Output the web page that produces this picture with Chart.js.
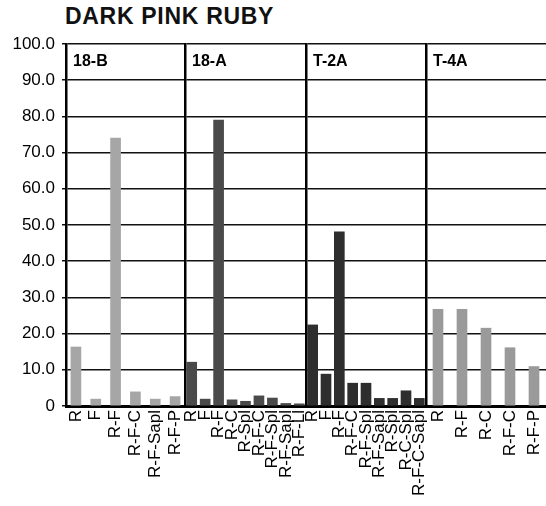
<!DOCTYPE html>
<html>
<head>
<meta charset="utf-8">
<script src="https://cdn.jsdelivr.net/npm/chart.js@4"></script>
<style>
  html, body { margin: 0; padding: 0; background: #fff; }
  #wrap { position: relative; width: 546px; height: 506px; overflow: hidden; }
  #title {
    position: absolute; left: 65px; top: 5px;
    font: bold 23px "Liberation Sans", Arial, sans-serif;
    letter-spacing: 0.7px; line-height: 23px; color: #111;
  }
  .panel { position: absolute; top: 0; height: 506px; }
</style>
</head>
<body>
<div id="wrap">
  <div id="title">DARK PINK RUBY</div>
  <div class="panel" style="left:0;width:205px"><canvas id="c0"></canvas></div>
  <div class="panel" style="left:175px;width:151px"><canvas id="c1"></canvas></div>
  <div class="panel" style="left:296px;width:150px"><canvas id="c2"></canvas></div>
  <div class="panel" style="left:416px;width:150px"><canvas id="c3"></canvas></div>
</div>
<script>
// Dark Pink Ruby: four side-by-side bar panels sharing one y scale

var panelNames = ['18-B', '18-A', 'T-2A', 'T-4A'];

var cats18B = ['R', 'F', 'R-F', 'R-F-C', 'R-F-Sapl', 'R-F-P'];
var vals18B = [16.3, 1.9, 74.0, 3.9, 1.9, 2.6];

var cats18A = ['R', 'F', 'R-F', 'R-C', 'R-Spl', 'R-F-C', 'R-F-Spl', 'R-F-Sapl', 'R-F-Ll'];
var vals18A = [12.1, 1.9, 79.0, 1.7, 1.3, 2.8, 2.2, 0.7, 0.6];

var catsT2A = ['R', 'F', 'R-F', 'R-F-C', 'R-F-Spl', 'R-F-Sapl', 'R-Spl', 'R-C-Spl', 'R-F-C-Sapl'];
var valsT2A = [22.4, 8.8, 48.1, 6.3, 6.3, 2.1, 2.1, 4.2, 2.1];

var catsT4A = ['R', 'R-F', 'R-C', 'R-F-C', 'R-F-P'];
var valsT4A = [26.7, 26.7, 21.5, 16.1, 10.9];

var yTickLabels = ['0', '10.0', '20.0', '30.0', '40.0', '50.0', '60.0', '70.0', '80.0', '90.0', '100.0'];

var FONT = '"Liberation Sans", Arial, sans-serif';
Chart.defaults.font.family = FONT;
Chart.defaults.color = '#000';

// panel name in the top-left corner of each plot
var panelLabel = {
  id: 'panelLabel',
  afterDraw: function (chart, args, opts) {
    var a = chart.chartArea;
    var ctx = chart.ctx;
    ctx.save();
    ctx.font = 'bold 16px ' + FONT;
    ctx.fillStyle = '#000';
    ctx.textBaseline = 'alphabetic';
    ctx.fillText(opts.text, a.left + 7, a.top + 22);
    ctx.restore();
  }
};

function makeChart(id, labels, values, color, name, first) {
  new Chart(document.getElementById(id), {
    type: 'bar',
    data: {
      labels: labels,
      datasets: [{
        data: values,
        backgroundColor: color,
        barThickness: 10
      }]
    },
    options: {
      responsive: true,
      maintainAspectRatio: false,
      animation: false,
      layout: { padding: { top: 44, right: 20, left: 0, bottom: 0 } },
      plugins: {
        legend: { display: false },
        tooltip: { enabled: false },
        panelLabel: { text: name }
      },
      scales: {
        x: {
          grid: { display: false, drawTicks: false },
          border: { color: '#000', width: 3 },
          ticks: {
            minRotation: 90, maxRotation: 90, autoSkip: false,
            padding: 4, color: '#000', font: { size: 17 }
          },
          afterFit: function (s) { s.height = 100; }
        },
        y: {
          min: 0,
          max: 100,
          ticks: {
            stepSize: 10,
            display: first,
            padding: 7,
            color: '#000',
            font: { size: 17 },
            callback: function (v) { return yTickLabels[Math.round(v / 10)]; }
          },
          grid: { color: '#111', lineWidth: 1.5, drawTicks: first, tickLength: 4 },
          border: { color: '#000', width: 2.5 },
          afterFit: function (s) { s.width = first ? 66 : 10; }
        }
      }
    },
    plugins: [panelLabel]
  });
}

makeChart('c0', cats18B, vals18B, '#a6a6a6', panelNames[0], true);
makeChart('c1', cats18A, vals18A, '#4a4a4a', panelNames[1], false);
makeChart('c2', catsT2A, valsT2A, '#2e2e2e', panelNames[2], false);
makeChart('c3', catsT4A, valsT4A, '#9a9a9a', panelNames[3], false);
</script>
</body>
</html>
